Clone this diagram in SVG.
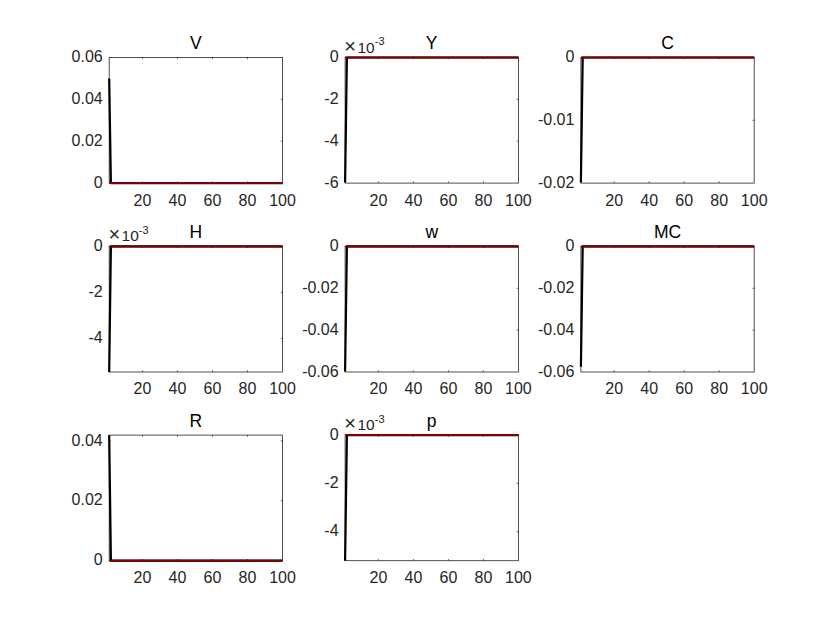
<svg xmlns="http://www.w3.org/2000/svg" width="840" height="630" viewBox="0 0 840 630">
<style>
.box{fill:#fff;stroke:#262626;stroke-width:0.8}
.tk{fill:none;stroke:#262626;stroke-width:0.7}
.irf{fill:none;stroke:#000;stroke-width:2.2;stroke-linejoin:round}
.zero{fill:none;stroke:#800000;stroke-width:2}
text{font-family:"Liberation Sans",Arial,sans-serif;fill:#262626}
.yl{font-size:16px;text-anchor:end}
.xl{font-size:16px;text-anchor:middle}
.ti{font-size:17.5px;text-anchor:middle;fill:#000}
.ex{font-size:15.5px}
.tm{font-size:20px}
.sup{font-size:11px}
</style>
<rect width="840" height="630" fill="#fff"/>

<g id="panel-V">
<rect class="box" x="109.2" y="57.5" width="173.3" height="125.6"/>
<path class="tk" d="M109.2,141.2h1.7M109.2,99.4h1.7M282.5,141.2h-1.7M282.5,99.4h-1.7M142.5,183.1v-1.7M177.5,183.1v-1.7M212.5,183.1v-1.7M247.5,183.1v-1.7M142.5,57.5v1.7M177.5,57.5v1.7M212.5,57.5v1.7M247.5,57.5v1.7"/>
<path class="irf" d="M109.2,78.4L110.9,183.1L282.5,183.1"/>
<path class="zero" d="M109.2,183.1H282.5"/>
<text class="ti" x="195.8" y="49">V</text>
<text class="yl" x="102.7" y="187.8">0</text>
<text class="yl" x="102.7" y="145.9">0.02</text>
<text class="yl" x="102.7" y="104.1">0.04</text>
<text class="yl" x="102.7" y="62.2">0.06</text>
<text class="xl" x="142.5" y="205.5">20</text>
<text class="xl" x="177.5" y="205.5">40</text>
<text class="xl" x="212.5" y="205.5">60</text>
<text class="xl" x="247.5" y="205.5">80</text>
<text class="xl" x="282.5" y="205.5">100</text>
</g>

<g id="panel-Y">
<rect class="box" x="345.1" y="57.5" width="173.3" height="125.6"/>
<path class="tk" d="M345.1,99.4h1.7M345.1,141.2h1.7M518.4,99.4h-1.7M518.4,141.2h-1.7M378.4,183.1v-1.7M413.4,183.1v-1.7M448.4,183.1v-1.7M483.4,183.1v-1.7M378.4,57.5v1.7M413.4,57.5v1.7M448.4,57.5v1.7M483.4,57.5v1.7"/>
<path class="irf" d="M345.1,182.6L346.9,57.5L518.4,57.5"/>
<path class="zero" d="M345.1,57.5H518.4"/>
<text class="ti" x="431.7" y="49">Y</text>
<text class="ex" x="344.3" y="52.5"><tspan class="tm">×</tspan><tspan x="357.5">10</tspan><tspan class="sup" dy="-7.5">-3</tspan></text>
<text class="yl" x="338.6" y="62.2">0</text>
<text class="yl" x="338.6" y="104.1">-2</text>
<text class="yl" x="338.6" y="145.9">-4</text>
<text class="yl" x="338.6" y="187.8">-6</text>
<text class="xl" x="378.4" y="205.5">20</text>
<text class="xl" x="413.4" y="205.5">40</text>
<text class="xl" x="448.4" y="205.5">60</text>
<text class="xl" x="483.4" y="205.5">80</text>
<text class="xl" x="518.4" y="205.5">100</text>
</g>

<g id="panel-C">
<rect class="box" x="580.9" y="57.5" width="173.3" height="125.6"/>
<path class="tk" d="M580.9,120.3h1.7M754.2,120.3h-1.7M614.2,183.1v-1.7M649.2,183.1v-1.7M684.2,183.1v-1.7M719.2,183.1v-1.7M614.2,57.5v1.7M649.2,57.5v1.7M684.2,57.5v1.7M719.2,57.5v1.7"/>
<path class="irf" d="M580.9,182.6L582.7,57.5L754.2,57.5"/>
<path class="zero" d="M580.9,57.5H754.2"/>
<text class="ti" x="667.5" y="49">C</text>
<text class="yl" x="574.4" y="62.2">0</text>
<text class="yl" x="574.4" y="125">-0.01</text>
<text class="yl" x="574.4" y="187.8">-0.02</text>
<text class="xl" x="614.2" y="205.5">20</text>
<text class="xl" x="649.2" y="205.5">40</text>
<text class="xl" x="684.2" y="205.5">60</text>
<text class="xl" x="719.2" y="205.5">80</text>
<text class="xl" x="754.2" y="205.5">100</text>
</g>

<g id="panel-H">
<rect class="box" x="109.2" y="246.4" width="173.3" height="125.6"/>
<path class="tk" d="M109.2,292.4h1.7M109.2,338.4h1.7M282.5,292.4h-1.7M282.5,338.4h-1.7M142.5,372v-1.7M177.5,372v-1.7M212.5,372v-1.7M247.5,372v-1.7M142.5,246.4v1.7M177.5,246.4v1.7M212.5,246.4v1.7M247.5,246.4v1.7"/>
<path class="irf" d="M109.2,372L110.9,246.4L282.5,246.4"/>
<path class="zero" d="M109.2,246.4H282.5"/>
<text class="ti" x="195.8" y="237.9">H</text>
<text class="ex" x="108.4" y="241.4"><tspan class="tm">×</tspan><tspan x="121.6">10</tspan><tspan class="sup" dy="-7.5">-3</tspan></text>
<text class="yl" x="102.7" y="251.1">0</text>
<text class="yl" x="102.7" y="297.1">-2</text>
<text class="yl" x="102.7" y="343.1">-4</text>
<text class="xl" x="142.5" y="394.4">20</text>
<text class="xl" x="177.5" y="394.4">40</text>
<text class="xl" x="212.5" y="394.4">60</text>
<text class="xl" x="247.5" y="394.4">80</text>
<text class="xl" x="282.5" y="394.4">100</text>
</g>

<g id="panel-w">
<rect class="box" x="345.1" y="246.4" width="173.3" height="125.6"/>
<path class="tk" d="M345.1,288.3h1.7M345.1,330.1h1.7M518.4,288.3h-1.7M518.4,330.1h-1.7M378.4,372v-1.7M413.4,372v-1.7M448.4,372v-1.7M483.4,372v-1.7M378.4,246.4v1.7M413.4,246.4v1.7M448.4,246.4v1.7M483.4,246.4v1.7"/>
<path class="irf" d="M345.1,371.5L346.9,246.4L518.4,246.4"/>
<path class="zero" d="M345.1,246.4H518.4"/>
<text class="ti" x="431.7" y="237.9">w</text>
<text class="yl" x="338.6" y="251.1">0</text>
<text class="yl" x="338.6" y="293">-0.02</text>
<text class="yl" x="338.6" y="334.8">-0.04</text>
<text class="yl" x="338.6" y="376.7">-0.06</text>
<text class="xl" x="378.4" y="394.4">20</text>
<text class="xl" x="413.4" y="394.4">40</text>
<text class="xl" x="448.4" y="394.4">60</text>
<text class="xl" x="483.4" y="394.4">80</text>
<text class="xl" x="518.4" y="394.4">100</text>
</g>

<g id="panel-MC">
<rect class="box" x="580.9" y="246.4" width="173.3" height="125.6"/>
<path class="tk" d="M580.9,288.3h1.7M580.9,330.1h1.7M754.2,288.3h-1.7M754.2,330.1h-1.7M614.2,372v-1.7M649.2,372v-1.7M684.2,372v-1.7M719.2,372v-1.7M614.2,246.4v1.7M649.2,246.4v1.7M684.2,246.4v1.7M719.2,246.4v1.7"/>
<path class="irf" d="M580.9,366.8L582.7,246.4L754.2,246.4"/>
<path class="zero" d="M580.9,246.4H754.2"/>
<text class="ti" x="667.5" y="237.9">MC</text>
<text class="yl" x="574.4" y="251.1">0</text>
<text class="yl" x="574.4" y="293">-0.02</text>
<text class="yl" x="574.4" y="334.8">-0.04</text>
<text class="yl" x="574.4" y="376.7">-0.06</text>
<text class="xl" x="614.2" y="394.4">20</text>
<text class="xl" x="649.2" y="394.4">40</text>
<text class="xl" x="684.2" y="394.4">60</text>
<text class="xl" x="719.2" y="394.4">80</text>
<text class="xl" x="754.2" y="394.4">100</text>
</g>

<g id="panel-R">
<rect class="box" x="109.2" y="435.1" width="173.3" height="125.6"/>
<path class="tk" d="M109.2,500.7h1.7M109.2,440.8h1.7M282.5,500.7h-1.7M282.5,440.8h-1.7M142.5,560.7v-1.7M177.5,560.7v-1.7M212.5,560.7v-1.7M247.5,560.7v-1.7M142.5,435.1v1.7M177.5,435.1v1.7M212.5,435.1v1.7M247.5,435.1v1.7"/>
<path class="irf" d="M109.2,435.3L110.9,560.7L282.5,560.7"/>
<path class="zero" d="M109.2,560.7H282.5"/>
<text class="ti" x="195.8" y="426.6">R</text>
<text class="yl" x="102.7" y="565.4">0</text>
<text class="yl" x="102.7" y="505.4">0.02</text>
<text class="yl" x="102.7" y="445.5">0.04</text>
<text class="xl" x="142.5" y="583.1">20</text>
<text class="xl" x="177.5" y="583.1">40</text>
<text class="xl" x="212.5" y="583.1">60</text>
<text class="xl" x="247.5" y="583.1">80</text>
<text class="xl" x="282.5" y="583.1">100</text>
</g>

<g id="panel-p">
<rect class="box" x="345.1" y="435.1" width="173.3" height="125.6"/>
<path class="tk" d="M345.1,483.4h1.7M345.1,531.7h1.7M518.4,483.4h-1.7M518.4,531.7h-1.7M378.4,560.7v-1.7M413.4,560.7v-1.7M448.4,560.7v-1.7M483.4,560.7v-1.7M378.4,435.1v1.7M413.4,435.1v1.7M448.4,435.1v1.7M483.4,435.1v1.7"/>
<path class="irf" d="M345.1,560.7L346.9,435.1L518.4,435.1"/>
<path class="zero" d="M345.1,435.1H518.4"/>
<text class="ti" x="431.7" y="426.6">p</text>
<text class="ex" x="344.3" y="430.1"><tspan class="tm">×</tspan><tspan x="357.5">10</tspan><tspan class="sup" dy="-7.5">-3</tspan></text>
<text class="yl" x="338.6" y="439.8">0</text>
<text class="yl" x="338.6" y="488.1">-2</text>
<text class="yl" x="338.6" y="536.4">-4</text>
<text class="xl" x="378.4" y="583.1">20</text>
<text class="xl" x="413.4" y="583.1">40</text>
<text class="xl" x="448.4" y="583.1">60</text>
<text class="xl" x="483.4" y="583.1">80</text>
<text class="xl" x="518.4" y="583.1">100</text>
</g>

<g id="connectors"></g>
</svg>
